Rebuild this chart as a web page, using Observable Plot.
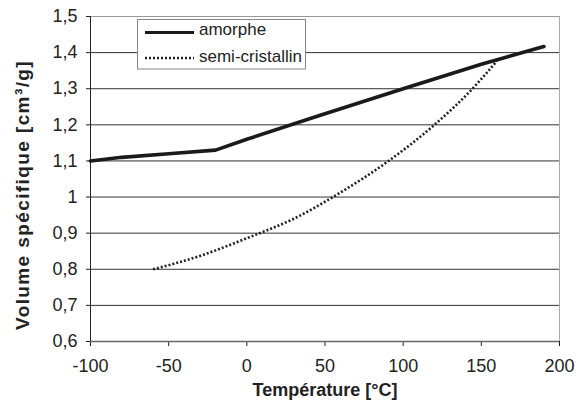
<!DOCTYPE html>
<html><head><meta charset="utf-8">
<script src="https://cdn.jsdelivr.net/npm/d3@7"></script>
<script src="https://cdn.jsdelivr.net/npm/@observablehq/plot@0.6"></script>
<style>body{margin:0;background:#fff} #chart{position:relative;width:579px;height:407px}</style>
</head><body><div id="chart"></div>
<script>
const amorpheT = [-100, -80, -50, -20, 0, 46, 100, 150, 190];
const amorpheV = [1.10, 1.11, 1.12, 1.13, 1.16, 1.225, 1.30, 1.368, 1.417];
const semiT = [-60, -30, 0, 30, 60, 90, 120, 145, 160];
const semiV = [0.80, 0.837, 0.886, 0.94, 1.013, 1.098, 1.20, 1.303, 1.377];
const yTicks = [0.6, 0.7, 0.8, 0.9, 1.0, 1.1, 1.2, 1.3, 1.4, 1.5];
const yTickLabels = ["0,6", "0,7", "0,8", "0,9", "1", "1,1", "1,2", "1,3", "1,4", "1,5"];
const xTicks = [-100, -50, 0, 50, 100, 150, 200];
const seriesNames = ["amorphe", "semi-cristallin"];
const xTitle = "Température [°C]";
const yTitle = "Volume spécifique [cm³/g]";

const amorphe = amorpheT.map((t, i) => ({t, v: amorpheV[i]}));
const semi = semiT.map((t, i) => ({t, v: semiV[i]}));
const yLabelMap = new Map(yTicks.map((d, i) => [d.toFixed(1), yTickLabels[i]]));
const font = "'Liberation Sans', Arial, sans-serif";

const plot = Plot.plot({
  width: 579,
  height: 407,
  marginLeft: 90,
  marginRight: 20,
  marginTop: 16,
  marginBottom: 66,
  style: {fontFamily: font, fontSize: "18px", color: "#222", background: "#fff"},
  x: {domain: [-100, 200], ticks: xTicks, tickSize: 5, tickPadding: 13, label: null, tickFormat: d => String(d)},
  y: {domain: [0.6, 1.5], ticks: yTicks, tickSize: 4, tickPadding: 9, label: null, tickFormat: d => yLabelMap.get(d.toFixed(1))},
  marks: [
    Plot.ruleY(yTicks.filter(d => d > 0.65 && d < 1.45), {stroke: "#333", strokeWidth: 1}),
    Plot.ruleY([1.5], {stroke: "#999", strokeWidth: 1}),
    Plot.ruleX([200], {stroke: "#aaa", strokeWidth: 1}),
    Plot.ruleY([0.6], {stroke: "#666", strokeWidth: 1.5}),
    Plot.ruleX([-100], {stroke: "#222", strokeWidth: 1}),
    Plot.line(semi, {x: "t", y: "v", stroke: "#222", strokeWidth: 2.6, strokeDasharray: "2 2", curve: "monotone-x", className: "semi-line"}),
    Plot.line(amorphe, {x: "t", y: "v", stroke: "#1a1a1a", strokeWidth: 3.6, curve: "linear"}),
    Plot.text([xTitle], {frameAnchor: "bottom", dy: 54, fontWeight: "bold", fontSize: 18, fill: "#222"}),
    Plot.text([yTitle], {frameAnchor: "left", textAnchor: "middle", dx: -68, dy: 16, rotate: -90, fontWeight: "bold", fontSize: 19, fill: "#222", className: "ytitle"})
  ]
});
document.getElementById("chart").appendChild(plot);

const svg = d3.select(plot);
svg.selectAll(".semi-line, .semi-line path").attr("stroke-dasharray", "2 2").attr("stroke-linecap", "butt");
svg.selectAll(".ytitle text").style("letter-spacing", "1.4px");

// Legend
const lg = svg.append("g").attr("font-family", font).attr("font-size", 17).attr("fill", "#222").attr("text-anchor", "start");
lg.append("rect").attr("x", 137.5).attr("y", 19.5).attr("width", 168).attr("height", 49.5)
  .attr("fill", "#fff").attr("stroke", "#888");
lg.append("line").attr("x1", 145).attr("x2", 194).attr("y1", 32.5).attr("y2", 32.5)
  .attr("stroke", "#1a1a1a").attr("stroke-width", 3);
lg.append("line").attr("x1", 145).attr("x2", 194).attr("y1", 58).attr("y2", 58)
  .attr("stroke", "#222").attr("stroke-width", 2.5).attr("stroke-dasharray", "2 2");
lg.append("text").attr("x", 199).attr("y", 34.5).attr("text-anchor", "start").text(seriesNames[0]);
lg.append("text").attr("x", 199).attr("y", 61.5).attr("text-anchor", "start").text(seriesNames[1]);
</script>
</body></html>
